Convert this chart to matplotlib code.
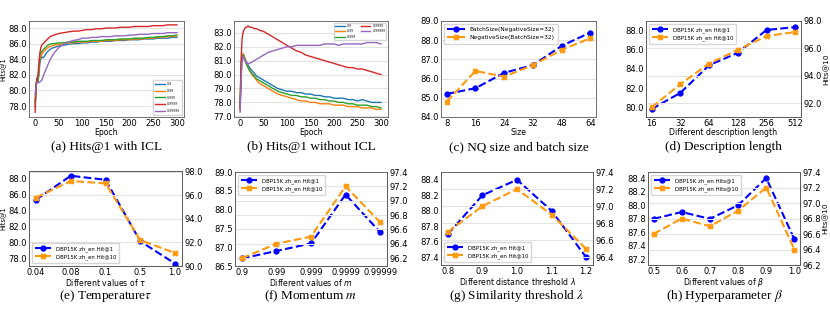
import matplotlib
matplotlib.use("Agg")
import matplotlib.pyplot as plt

# (a) / (b) curves: epoch samples
EPOCHS = [0, 2, 4, 6, 8, 10, 12, 14, 17, 20, 25, 30, 35, 40, 50, 60, 70, 80, 90, 100,
          110, 120, 130, 140, 150, 160, 170, 180, 190, 200, 210, 220, 230, 240, 250, 260,
          270, 280, 290, 300]
MOMENTA = ["0.9", "0.99", "0.999", "0.9999", "0.99999"]

ICL_09 = [77.8, 80.5, 81.6, 81.3, 82.0, 83.5, 84.0, 84.3, 84.2, 84.4, 84.9, 85.2, 85.4, 85.5,
          85.7, 85.8, 85.9, 86.0, 86.0, 86.1, 86.1, 86.2, 86.2, 86.3, 86.3, 86.3, 86.4, 86.4,
          86.4, 86.5, 86.5, 86.5, 86.6, 86.6, 86.6, 86.7, 86.7, 86.7, 86.8, 86.8]
ICL_099 = [78.2, 80.8, 81.2, 81.0, 82.5, 84.0, 84.3, 84.6, 84.9, 85.1, 85.4, 85.6, 85.7, 85.8,
           85.9, 86.0, 86.1, 86.1, 86.2, 86.2, 86.2, 86.3, 86.3, 86.3, 86.4, 86.4, 86.4, 86.5,
           86.5, 86.5, 86.6, 86.6, 86.6, 86.7, 86.7, 86.8, 86.8, 86.9, 86.9, 87.0]
ICL_0999 = [78.5, 81.0, 81.2, 81.1, 83.0, 84.5, 84.8, 85.0, 85.2, 85.4, 85.7, 85.9, 86.0, 86.0,
            86.1, 86.1, 86.2, 86.2, 86.3, 86.3, 86.3, 86.4, 86.4, 86.4, 86.5, 86.5, 86.5, 86.6,
            86.6, 86.6, 86.7, 86.7, 86.7, 86.8, 86.8, 86.9, 86.9, 87.0, 87.0, 87.1]
ICL_09999 = [77.2, 80.5, 81.5, 82.0, 83.5, 84.8, 85.5, 85.8, 86.0, 86.2, 86.5, 86.8, 87.0, 87.1,
             87.3, 87.4, 87.5, 87.6, 87.6, 87.7, 87.8, 87.8, 87.9, 87.9, 88.0, 88.0, 88.0, 88.1,
             88.1, 88.1, 88.2, 88.2, 88.2, 88.2, 88.3, 88.3, 88.3, 88.4, 88.4, 88.4]
ICL_099999 = [79.5, 80.5, 81.0, 81.1, 81.0, 81.1, 81.2, 81.3, 81.8, 82.3, 83.0, 83.7, 84.3, 84.8,
              85.5, 85.9, 86.2, 86.4, 86.5, 86.7, 86.7, 86.8, 86.8, 86.9, 86.9, 86.9, 87.0, 87.0,
              87.0, 87.1, 87.1, 87.2, 87.2, 87.2, 87.3, 87.3, 87.3, 87.4, 87.4, 87.4]

NOICL_09 = [77.6, 80.0, 81.2, 81.5, 81.4, 81.2, 81.0, 80.9, 80.7, 80.5, 80.3, 80.1, 79.9, 79.8,
            79.6, 79.4, 79.2, 79.0, 78.9, 78.8, 78.8, 78.7, 78.7, 78.6, 78.6, 78.5, 78.5, 78.4,
            78.4, 78.3, 78.3, 78.3, 78.2, 78.2, 78.1, 78.2, 78.1, 78.0, 78.0, 78.0]
NOICL_099 = [77.4, 80.2, 81.3, 81.5, 81.4, 81.2, 81.0, 80.8, 80.5, 80.3, 80.0, 79.8, 79.6, 79.4,
             79.2, 79.0, 78.8, 78.6, 78.5, 78.4, 78.3, 78.2, 78.1, 78.1, 78.0, 78.0, 77.9, 77.9,
             77.9, 77.8, 77.8, 77.8, 77.7, 77.7, 77.7, 77.6, 77.6, 77.6, 77.5, 77.5]
NOICL_0999 = [77.8, 80.6, 81.3, 81.4, 81.3, 81.1, 80.9, 80.7, 80.5, 80.3, 80.1, 79.9, 79.7, 79.6,
              79.4, 79.2, 79.0, 78.8, 78.7, 78.6, 78.5, 78.5, 78.4, 78.4, 78.3, 78.3, 78.2, 78.2,
              78.1, 78.1, 78.0, 78.0, 77.9, 77.9, 77.8, 77.8, 77.8, 77.7, 77.7, 77.6]
NOICL_09999 = [77.5, 81.0, 82.5, 83.0, 83.2, 83.3, 83.4, 83.4, 83.5, 83.4, 83.4, 83.3, 83.3, 83.2,
               83.1, 82.9, 82.7, 82.5, 82.3, 82.1, 81.9, 81.7, 81.6, 81.4, 81.3, 81.2, 81.1, 81.0,
               80.9, 80.8, 80.7, 80.6, 80.5, 80.5, 80.4, 80.4, 80.3, 80.2, 80.1, 80.0]
NOICL_099999 = [77.3, 79.5, 80.8, 81.3, 81.2, 81.0, 80.9, 80.8, 80.8, 80.8, 80.9, 81.0, 81.1, 81.2,
                81.4, 81.6, 81.7, 81.8, 81.9, 82.0, 82.0, 82.1, 82.1, 82.1, 82.1, 82.1, 82.1, 82.2,
                82.2, 82.2, 82.1, 82.2, 82.2, 82.2, 82.2, 82.2, 82.3, 82.3, 82.3, 82.2]

# (c) NQ size and batch size
SIZES = ["8", "16", "24", "32", "48", "64"]
BATCH = [85.2, 85.5, 86.3, 86.7, 87.7, 88.4]
NEG = [84.8, 86.4, 86.1, 86.7, 87.5, 88.1]

# (d) description length
DESC_LEN = ["16", "32", "64", "128", "256", "512"]
DESC_H1 = [79.8, 81.5, 84.4, 85.7, 88.1, 88.4]
DESC_H10 = [91.7, 93.4, 94.9, 95.9, 96.9, 97.2]

# (e) temperature
TAU = ["0.04", "0.08", "0.1", "0.5", "1.0"]
TAU_H1 = [85.4, 88.4, 87.9, 80.2, 77.4]
TAU_H10 = [95.8, 97.2, 97.0, 92.2, 91.1]

# (f) momentum
MOM = ["0.9", "0.99", "0.999", "0.9999", "0.99999"]
MOM_H1 = [86.7, 86.9, 87.1, 88.4, 87.4]
MOM_H10 = [96.2, 96.4, 96.5, 97.2, 96.7]

# (g) similarity threshold
LAM = ["0.8", "0.9", "1.0", "1.1", "1.2"]
LAM_H1 = [87.7, 88.2, 88.4, 88.0, 87.4]
LAM_H10 = [96.7, 97.0, 97.2, 96.9, 96.5]

# (h) beta
BETA = ["0.5", "0.6", "0.7", "0.8", "0.9", "1.0"]
BETA_H1 = [87.8, 87.9, 87.8, 88.0, 88.4, 87.5]
BETA_H10 = [96.6, 96.8, 96.7, 96.9, 97.2, 96.4]

ORANGE = "#ff9a0e"
TICK_FS = 6
LAB_FS = 5.6

fig = plt.figure(figsize=(8.3, 3.1), dpi=100)


def box(l, t, r, b):
    return fig.add_axes([l / 830, 1 - b / 310, (r - l) / 830, (b - t) / 310])


def style(ax):
    ax.set_facecolor("white")
    for s in ax.spines.values():
        s.set_color("0.35")
        s.set_linewidth(0.6)
    ax.tick_params(labelsize=TICK_FS, length=0, pad=1.5)
    ax.grid(False)


def hgrid(ax):
    ax.yaxis.grid(True, color="#e3e3e3", lw=0.8)
    ax.set_axisbelow(True)


def caption(ax, txt, y):
    p = ax.get_position()
    fig.text((p.x0 + p.x1) / 2, y, txt, ha="center", va="center", fontsize=9.5,
             family="Liberation Serif", math_fontfamily="stix")


def curves(ax, series, ylim, yticks):
    style(ax)
    hgrid(ax)
    for name, y in zip(MOMENTA, series):
        ax.plot(EPOCHS, y, lw=1.0, label=name)
    ax.set_ylim(*ylim)
    ax.set_yticks(yticks)
    ax.set_yticklabels([f"{v:.1f}" for v in yticks])
    ax.set_xticks([0, 50, 100, 150, 200, 250, 300])
    ax.set_xlim(-13, 315)
    ax.set_xlabel("Epoch", fontsize=LAB_FS, labelpad=0)


def pair(ax, xs, y1, y2, lab1, lab2, lim1, lim2, t1, t2, xlabel, loc, right_label=None):
    style(ax)
    ax2 = ax.twinx()
    style(ax2)
    hgrid(ax2)
    pos = range(len(xs))
    l1, = ax.plot(pos, y1, "--o", color="blue", lw=1.5, ms=3.5, label=lab1)
    l2, = ax2.plot(pos, y2, "--X", color=ORANGE, lw=1.5, ms=3.5, label=lab2)
    ax.set_ylim(*lim1)
    ax2.set_ylim(*lim2)
    ax.set_yticks(t1)
    ax.set_yticklabels([f"{v:.1f}" for v in t1])
    ax2.set_yticks(t2)
    ax2.set_yticklabels([f"{v:.1f}" for v in t2])
    ax.set_xticks(list(pos))
    ax.set_xticklabels(xs)
    ax.set_xlim(-0.2, len(xs) - 0.8)
    ax.set_xlabel(xlabel, fontsize=LAB_FS, labelpad=0)
    ax2.legend([l1, l2], [lab1, lab2], loc=loc, fontsize=3.9, frameon=True,
               edgecolor="0.8", borderpad=0.6, handlelength=3)
    if right_label:
        ax2.set_ylabel(right_label, fontsize=5.4, labelpad=1)
    return ax2


# ---- row 1 ----
ax_a = box(29, 21, 184, 117)
curves(ax_a, [ICL_09, ICL_099, ICL_0999, ICL_09999, ICL_099999], (76.6, 88.9),
       [78.0, 80.0, 82.0, 84.0, 86.0, 88.0])
ax_a.set_ylabel("Hits@1", fontsize=4.8, labelpad=1)
ax_a.legend(loc="lower right", fontsize=2.2, edgecolor="0.8", handlelength=3, borderpad=0.8,
            labelspacing=0.9)
caption(ax_a, "(a) Hits@1 with ICL", 0.526)

ax_b = box(234, 21, 388, 117)
curves(ax_b, [NOICL_09, NOICL_099, NOICL_0999, NOICL_09999, NOICL_099999], (76.95, 83.85),
       [77.0, 78.0, 79.0, 80.0, 81.0, 82.0, 83.0])
ax_b.legend(loc="upper right", fontsize=2.2, ncol=2, edgecolor="0.8", handlelength=3,
            columnspacing=1.5)
caption(ax_b, "(b) Hits@1 without ICL", 0.526)

ax_c = box(441, 21, 596, 117)
style(ax_c)
hgrid(ax_c)
pc = range(len(SIZES))
ax_c.plot(pc, BATCH, "--o", color="blue", lw=1.5, ms=3.5, label="BatchSize(NegativeSize=32)")
ax_c.plot(pc, NEG, "--X", color=ORANGE, lw=1.5, ms=3.5, label="NegativeSize(BatchSize=32)")
ax_c.set_ylim(84, 89)
ax_c.set_yticks([84, 85, 86, 87, 88, 89])
ax_c.set_yticklabels([f"{v:.1f}" for v in [84, 85, 86, 87, 88, 89]])
ax_c.set_xticks(list(pc))
ax_c.set_xticklabels(SIZES)
ax_c.set_xlim(-0.2, len(SIZES) - 0.8)
ax_c.set_xlabel("Size", fontsize=LAB_FS, labelpad=0)
ax_c.legend(loc="upper left", fontsize=4.2, edgecolor="0.8", handlelength=3, borderpad=0.6)
caption(ax_c, "(c) NQ size and batch size", 0.526)

ax_d = box(646, 21, 801, 117)
pair(ax_d, DESC_LEN, DESC_H1, DESC_H10, "DBP15K zh_en Hit@1", "DBP15K zh_en Hit@10",
     (78.96, 89.04), (91.0, 98.0), [80.0, 82.0, 84.0, 86.0, 88.0], [92.0, 94.0, 96.0, 98.0],
     "Different description length", "upper left", "Hits@10")
caption(ax_d, "(d) Description length", 0.526)

# ---- row 2 ----
ax_e = box(29, 171, 182, 266)
pair(ax_e, TAU, TAU_H1, TAU_H10, "DBP15K zh_en Hit@1", "DBP15K zh_en Hit@10",
     (77.1, 89.0), (90.0, 98.05), [78.0, 80.0, 82.0, 84.0, 86.0, 88.0],
     [90.0, 92.0, 94.0, 96.0, 98.0], r"Different values of $\tau$", "lower left")
ax_e.set_ylabel("Hits@1", fontsize=4.8, labelpad=1)
caption(ax_e, r"(e) Temperature$\tau$", 0.045)

ax_f = box(235, 172, 387, 266)
pair(ax_f, MOM, MOM_H1, MOM_H10, "DBP15K zh_en Hit@1", "DBP15K zh_en Hit@10",
     (86.5, 89.0), (96.09, 97.4), [86.5, 87.0, 87.5, 88.0, 88.5, 89.0],
     [96.2, 96.4, 96.6, 96.8, 97.0, 97.2, 97.4], r"Different values of $m$", "upper left")
caption(ax_f, r"(f) Momentum $m$", 0.045)

ax_g = box(441, 172, 593, 265)
pair(ax_g, LAM, LAM_H1, LAM_H10, "DBP15K zh_en Hit@1", "DBP15K zh_en Hit@10",
     (87.3, 88.5), (96.31, 97.4), [87.4, 87.6, 87.8, 88.0, 88.2, 88.4],
     [96.4, 96.6, 96.8, 97.0, 97.2, 97.4], r"Different distance threshold $\lambda$", "lower left")
caption(ax_g, r"(g) Similarity threshold $\lambda$", 0.045)

ax_h = box(648, 172, 800, 265)
pair(ax_h, BETA, BETA_H1, BETA_H10, "DBP15K zh_en Hits@1", "DBP15K zh_en Hits@10",
     (87.12, 88.49), (96.2, 97.4), [87.2, 87.4, 87.6, 87.8, 88.0, 88.2, 88.4],
     [96.2, 96.4, 96.6, 96.8, 97.0, 97.2, 97.4], r"Different values of $\beta$", "upper left",
     "Hits@10")
caption(ax_h, r"(h) Hyperparameter $\beta$", 0.045)

fig.savefig("out.png", dpi=100, facecolor="white")
